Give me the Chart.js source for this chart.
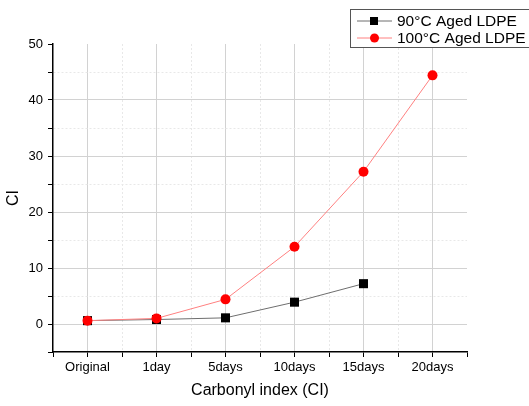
<!DOCTYPE html>
<html>
<head>
<meta charset="utf-8">
<script src="https://cdn.jsdelivr.net/npm/chart.js@4/dist/chart.umd.min.js"></script>
<style>
  html, body { margin: 0; padding: 0; background: #fff; }
  #wrap { width: 529px; height: 406px; }
</style>
</head>
<body>
<div id="wrap"><canvas id="ci-chart" width="529" height="406"></canvas></div>
<script>
var categories = ['Original', '1day', '5days', '10days', '15days', '20days'];
var aged90 = [0.6, 0.8, 1.1, 3.9, 7.2];
var aged100 = [0.6, 1.0, 4.4, 13.8, 27.2, 44.4];
var seriesNames = ['90\u00B0C Aged LDPE', '100\u00B0C Aged LDPE'];
var yTicks = [0, 10, 20, 30, 40, 50];

var FONT = 'Arial, "Liberation Sans", sans-serif';

function toPoints(values) {
    return values.map((v, i) => ({ x: i, y: v }));
}

// boxed legend drawn inside the top-right corner
var boxLegend = {
    id: 'boxLegend',
    afterDraw(chart) {
        const ctx = chart.ctx;
        const left = 350.5, top = 9.5;
        ctx.save();
        ctx.fillStyle = '#fff';
        ctx.fillRect(left, top, 200, 38);
        ctx.strokeStyle = '#555';
        ctx.lineWidth = 1;
        ctx.strokeRect(left, top, 200, 38);
        chart.data.datasets.forEach((ds, i) => {
            const y = 21 + i * 17;
            ctx.strokeStyle = ds.borderColor;
            ctx.lineWidth = 1;
            ctx.beginPath();
            ctx.moveTo(357, y);
            ctx.lineTo(392, y);
            ctx.stroke();
            ctx.fillStyle = ds.pointBackgroundColor;
            ctx.beginPath();
            if (ds.pointStyle === 'rect') {
                ctx.rect(370, y - 4, 8, 8);
            } else {
                ctx.arc(374.5, y, 4.5, 0, Math.PI * 2);
            }
            ctx.fill();
            ctx.fillStyle = '#000';
            ctx.font = '15.5px ' + FONT;
            ctx.textBaseline = 'middle';
            ctx.fillText(ds.label, 397, y + 1);
        });
        ctx.restore();
    }
};

const ctx = document.getElementById('ci-chart');
new Chart(ctx, {
    type: 'line',
    data: {
        datasets: [{
            label: seriesNames[0],
            data: toPoints(aged90),
            borderColor: '#6e6e6e',
            borderWidth: 1,
            pointStyle: 'rect',
            pointRadius: 6.4,
            pointBackgroundColor: '#000',
            pointBorderWidth: 0,
            order: 1,
            tension: 0
        }, {
            label: seriesNames[1],
            data: toPoints(aged100),
            borderColor: '#ff8080',
            borderWidth: 1,
            pointStyle: 'circle',
            pointRadius: 5,
            pointBackgroundColor: '#ff0000',
            pointBorderWidth: 0,
            order: 0,
            tension: 0
        }]
    },
    options: {
        responsive: false,
        animation: false,
        layout: { padding: { top: 44, right: 62, left: 0, bottom: 0 } },
        plugins: {
            legend: { display: false },
            tooltip: { enabled: false }
        },
        scales: {
            x: {
                type: 'linear',
                min: -0.5,
                max: 5.5,
                afterFit: scale => { scale.height = 54; },
                afterBuildTicks: scale => {
                    const t = [];
                    for (let v = -0.5; v <= 5.5; v += 0.5) t.push({ value: v });
                    scale.ticks = t;
                },
                ticks: {
                    autoSkip: false,
                    maxRotation: 0,
                    padding: 3,
                    color: '#000',
                    font: { family: FONT, size: 13 },
                    callback: v => Number.isInteger(v) ? categories[v] : ''
                },
                grid: {
                    tickLength: 5,
                    tickColor: '#000',
                    tickBorderDash: [],
                    color: c => {
                        if (!c.tick) return '#d2d2d2';
                        const v = c.tick.value;
                        if (v <= -0.5 || v >= 5.5) return 'rgba(0,0,0,0)';
                        return Number.isInteger(v) ? '#d2d2d2' : '#e8e8e8';
                    }
                },
                border: {
                    color: '#000',
                    width: 1.5,
                    dash: c => (c.tick && !Number.isInteger(c.tick.value)) ? [2, 2] : []
                },
                title: {
                    display: true,
                    text: 'Carbonyl index (CI)',
                    color: '#000',
                    font: { family: FONT, size: 16 },
                    padding: { top: 4, bottom: 6 }
                }
            },
            y: {
                min: -5,
                max: 50,
                afterFit: scale => { scale.width = 53; },
                afterBuildTicks: scale => {
                    const t = [];
                    for (let v = -5; v <= 50; v += 5) t.push({ value: v });
                    scale.ticks = t;
                },
                ticks: {
                    autoSkip: false,
                    padding: 5,
                    color: '#000',
                    font: { family: FONT, size: 13 },
                    callback: v => yTicks.includes(v) ? v : ''
                },
                grid: {
                    tickLength: 5,
                    tickColor: '#000',
                    tickBorderDash: [],
                    color: c => {
                        if (!c.tick) return '#d2d2d2';
                        const v = c.tick.value;
                        if (v <= -5 || v >= 50) return 'rgba(0,0,0,0)';
                        return v % 10 === 0 ? '#d2d2d2' : '#e8e8e8';
                    }
                },
                border: {
                    color: '#000',
                    width: 1.5,
                    dash: c => (c.tick && c.tick.value % 10 !== 0) ? [2, 2] : []
                },
                title: {
                    display: true,
                    text: 'CI',
                    color: '#000',
                    font: { family: FONT, size: 16 },
                    padding: { top: 4, bottom: 0 }
                }
            }
        }
    },
    plugins: [boxLegend]
});
</script>
</body>
</html>
